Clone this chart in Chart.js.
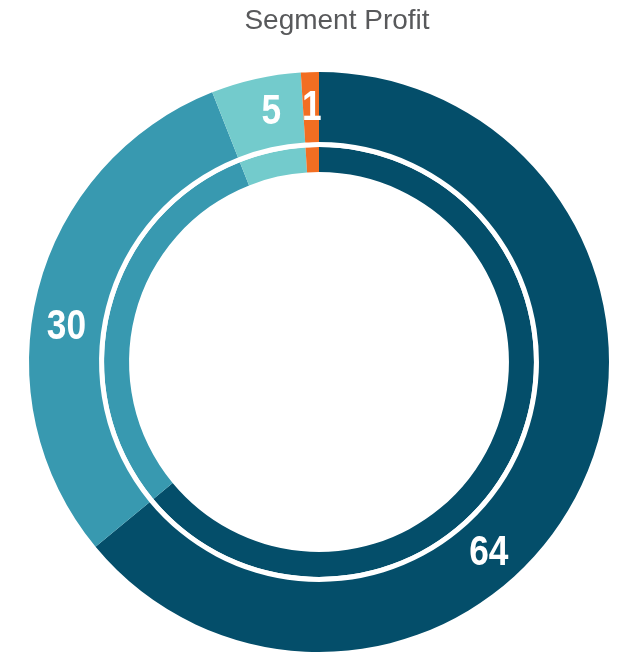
<!DOCTYPE html>
<html>
<head>
<meta charset="utf-8">
<script src="https://cdn.jsdelivr.net/npm/chart.js@4"></script>
<style>
    html, body { margin: 0; padding: 0; background: #fff; }
    #wrap { width: 623px; height: 654px; }
</style>
</head>
<body>
<div id="wrap"><canvas id="myChart" width="623" height="654"></canvas></div>
<script>
const segments = ['Segment A', 'Segment B', 'Segment C', 'Segment D'];
const profit = [64, 30, 5, 1];
const segmentColors = ['#044e6a', '#3899b0', '#73cbcc', '#f26e22'];
const gapRing = [1];
const chartTitle = 'Segment Profit';

// where each value label sits along its slice (0 = start, 1 = end)
const labelSpots = [0.6, 0.44, 0.6, 0.55];

const titlePlugin = {
    id: 'titleText',
    afterDraw(chart) {
        const ctx = chart.ctx;
        ctx.save();
        ctx.fillStyle = '#58595b';
        ctx.font = '28px "Liberation Sans", Arial, sans-serif';
        ctx.textAlign = 'center';
        ctx.textBaseline = 'alphabetic';
        ctx.fillText(chartTitle, 337, 29);
        ctx.restore();
    }
};

// condensed bold numbers: squeeze Liberation Sans Bold sideways
const valueLabels = {
    id: 'valueLabels',
    afterDatasetsDraw(chart) {
        const ctx = chart.ctx;
        const meta = chart.getDatasetMeta(0);
        const squeeze = 0.84;
        meta.data.forEach((arc, i) => {
            const p = arc.getProps(['x', 'y', 'startAngle', 'endAngle', 'innerRadius', 'outerRadius'], true);
            const a = p.startAngle + (p.endAngle - p.startAngle) * labelSpots[i];
            const r = (p.innerRadius + p.outerRadius) / 2;
            const lx = p.x + Math.cos(a) * r;
            const ly = p.y + Math.sin(a) * r;
            ctx.save();
            ctx.translate(lx, ly);
            ctx.scale(squeeze, 1);
            ctx.fillStyle = '#ffffff';
            ctx.font = 'bold 42px "Liberation Sans", Arial, sans-serif';
            ctx.textAlign = 'center';
            ctx.textBaseline = 'middle';
            ctx.fillText(String(profit[i]), 0, 1);
            ctx.restore();
        });
    }
};

const ctx = document.getElementById('myChart');
const myChart = new Chart(ctx, {
    type: 'doughnut',
    data: {
        labels: segments,
        datasets: [{
            data: profit,
            backgroundColor: segmentColors,
            borderWidth: 0,
            weight: 70
        }, {
            data: gapRing,
            backgroundColor: ['#ffffff'],
            borderWidth: 0,
            weight: 5
        }, {
            data: profit,
            backgroundColor: segmentColors,
            borderWidth: 0,
            weight: 25
        }]
    },
    options: {
        responsive: false,
        animation: false,
        cutout: '65.5%',
        hoverOffset: 0,
        layout: {
            padding: { left: 29, right: 14, top: 72, bottom: 2 }
        },
        plugins: {
            legend: { display: false },
            tooltip: { enabled: false },
            title: { display: false }
        }
    },
    plugins: [valueLabels, titlePlugin]
});
</script>
</body>
</html>
